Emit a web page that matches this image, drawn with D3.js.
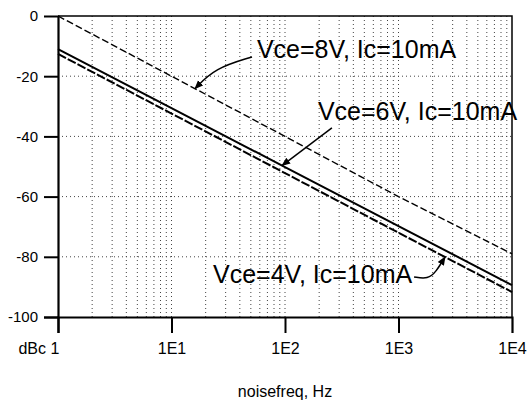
<!DOCTYPE html>
<html><head><meta charset="utf-8">
<script src="https://cdn.jsdelivr.net/npm/d3@7"></script>
<style>
body{margin:0;background:#fff;}
svg{display:block;font-family:"Liberation Sans",Arial,sans-serif;}
</style></head>
<body><svg id="c" width="527" height="406"></svg>
<script>
const freqs = [1, 10, 100, 1000, 10000];
const vce8 = [0, -20, -40, -60, -79];
const vce6 = [-11, -30.6, -50.2, -69.8, -89.4];
const vce4 = [-12.6, -32.4, -52.2, -72.0, -91.7];
const seriesNames = ["Vce=8V, Ic=10mA", "Vce=6V, Ic=10mA", "Vce=4V, Ic=10mA"];
const yTicks = [0, -20, -40, -60, -80, -100];
const xTicks = [1, 10, 100, 1000, 10000];
const xTickLabels = ["1", "1E1", "1E2", "1E3", "1E4"];
// annotation anchors in data space: label start, arrow path points, target freq on its series
const labelPos = [[56.6, -13.95], [195, -34.6], [23.2, -88.7]];
const arrowPts = [
  [[51.2, -13.6], [24.2, -17.3]],
  [[259, -37.2]],
  [[1371, -86.7], [1820, -87.4], [2140, -85.0]]
];
const arrowTargetF = [16.1, 94.1, 2570];

const svg = d3.select("#c");
const x = d3.scaleLog().domain([1, 1e4]).range([58, 512]);
const y = d3.scaleLinear().domain([-100, 0]).range([317, 16]);

// grid
const minor = [];
for (let d = 1; d <= 1000; d *= 10) for (let k = 2; k <= 10; k++) if (d * k < 1e4) minor.push(d * k);
svg.append("g").selectAll("line").data(minor).join("line")
  .attr("x1", d => x(d)).attr("x2", d => x(d)).attr("y1", y(0)).attr("y2", y(-100))
  .attr("stroke", "#444").attr("stroke-width", 1).attr("stroke-dasharray", "1,3");
svg.append("g").selectAll("line").data([-20, -40, -60, -80]).join("line")
  .attr("x1", x(1)).attr("x2", x(1e4)).attr("y1", d => y(d)).attr("y2", d => y(d))
  .attr("stroke", "#444").attr("stroke-width", 1).attr("stroke-dasharray", "1,3");

// frame
svg.append("path").attr("d", `M${x(1)},${y(0)}H${x(1e4)}V${y(-100)}`)
  .attr("fill", "none").attr("stroke", "#000").attr("stroke-width", 1.5);

// axes
const ya = svg.append("g").attr("transform", `translate(${x(1)},0)`)
  .call(d3.axisLeft(y).tickValues(yTicks).tickSize(14).tickPadding(6).tickFormat(d => d));
ya.select(".domain").attr("stroke-width", 2.2);
ya.selectAll(".tick line").attr("stroke-width", 2).filter(d => d === 0).remove();
ya.selectAll(".tick text").attr("font-size", 15).attr("fill", "#000").attr("font-family", "Liberation Sans, Arial, sans-serif");

const xa = svg.append("g").attr("transform", `translate(0,${y(-100)})`)
  .call(d3.axisBottom(x).tickValues(xTicks).tickSize(16).tickPadding(10)
    .tickFormat((d, i) => xTickLabels[i]));
xa.select(".domain").attr("stroke-width", 2.2);
xa.selectAll(".tick line").attr("stroke-width", 2).filter(d => d === 1e4).remove();
xa.selectAll(".tick text").attr("font-size", 16).attr("fill", "#000").attr("font-family", "Liberation Sans, Arial, sans-serif")
  .filter(d => d === 1).attr("text-anchor", "end").attr("dx", 1);
xa.selectAll(".tick text").filter(d => d === 1e4).attr("text-anchor", "middle");
svg.append("text").attr("x", 46).attr("y", 354).attr("text-anchor", "end")
  .attr("font-size", 16).text("dBc");
svg.append("text").attr("x", 285).attr("y", 397).attr("text-anchor", "middle")
  .attr("font-size", 16).text("noisefreq, Hz");

// series
const series = [vce8, vce6, vce4];
const styles = [
  {w: 1.4, dash: "7,3"},
  {w: 2, dash: null},
  {w: 2, dash: "9,2"}
];
const line = d3.line().x(d => x(d[0])).y(d => y(d[1]));
series.forEach((s, i) => {
  svg.append("path").datum(freqs.map((f, j) => [f, s[j]]))
    .attr("d", line).attr("fill", "none").attr("stroke", "#000")
    .attr("stroke-width", styles[i].w).attr("stroke-dasharray", styles[i].dash);
});

// interpolate series value at freq (linear in log f)
function valAt(s, f) {
  const lf = Math.log10(f);
  const i = Math.min(Math.floor(lf), freqs.length - 2);
  const t = lf - i;
  return s[i] + (s[i + 1] - s[i]) * t;
}

// arrowhead marker
svg.append("defs").append("marker").attr("id", "ah")
  .attr("viewBox", "0 0 10 10").attr("refX", 9).attr("refY", 5)
  .attr("markerWidth", 9).attr("markerHeight", 9).attr("markerUnits", "userSpaceOnUse")
  .attr("orient", "auto")
  .append("path").attr("d", "M0,1L10,5L0,9Z").attr("fill", "#000");

const aline = d3.line().x(d => x(d[0])).y(d => y(d[1])).curve(d3.curveBasis);
series.forEach((s, i) => {
  const pts = arrowPts[i].concat([[arrowTargetF[i], valAt(s, arrowTargetF[i])]]);
  svg.append("path").attr("d", aline(pts)).attr("fill", "none")
    .attr("stroke", "#000").attr("stroke-width", 1.5).attr("marker-end", "url(#ah)");
  svg.append("text").attr("x", x(labelPos[i][0])).attr("y", y(labelPos[i][1]))
    .attr("font-size", 25).attr("fill", "#000").text(seriesNames[i]);
});
</script></body></html>
